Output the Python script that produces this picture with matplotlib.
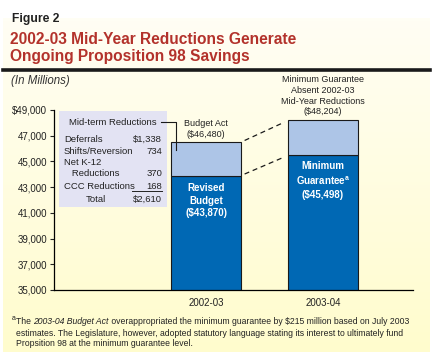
import matplotlib.pyplot as plt
import numpy as np

plt.rcParams['font.family'] = ['Liberation Sans', 'DejaVu Sans']

years = ["2002-03", "2003-04"]
lower_vals = [43870, 45498]
total_vals = [46480, 48204]
lower_labels = ["Revised\nBudget\n($43,870)", "Minimum\nGuarantee$^{\\mathregular{a}}$\n($45,498)"]
top_labels = ["Budget Act\n($46,480)", "Minimum Guarantee\nAbsent 2002-03\nMid-Year Reductions\n($48,204)"]
yticks = [35000, 37000, 39000, 41000, 43000, 45000, 47000, 49000]

reduction_items = ["Deferrals", "Shifts/Reversion", "Net K-12\n   Reductions", "CCC Reductions"]
reduction_vals = ["$1,338", "734", "370", "168"]
reduction_total = "$2,610"

W, H = 432, 356
dark_blue = "#0068b4"
light_blue = "#adc5e7"
red = "#b3322b"
ink = "#222222"

fig = plt.figure(figsize=(W / 100, H / 100), dpi=100)
fig.patch.set_facecolor("white")


def fx(px):
    return px / W


def fy(py):
    return 1 - py / H


# cream panel with a soft gradient
bg = fig.add_axes([fx(3), fy(352), fx(427), (352 - 18) / H], zorder=-5)
grad = np.linspace(0, 1, 100).reshape(-1, 1, 1)
c_top = np.array([255, 254, 244]) / 255
c_bot = np.array([255, 252, 205]) / 255
bg.imshow(c_top + grad * (c_bot - c_top), aspect="auto", extent=[0, 1, 0, 1])
bg.axis("off")

fig.text(fx(12), fy(19), "Figure 2", fontsize=8.7, fontweight="bold", va="center", color=ink)
fig.text(fx(10), fy(39), "2002-03 Mid-Year Reductions Generate", fontsize=11.2,
         fontweight="bold", va="center", color=red)
fig.text(fx(10), fy(57), "Ongoing Proposition 98 Savings", fontsize=11.2,
         fontweight="bold", va="center", color=red)
fig.add_artist(plt.Line2D([fx(3), fx(430)], [fy(70), fy(70)], color="#1a1a1a", lw=2.6))
fig.text(fx(11), fy(81), "(In Millions)", fontsize=8.3, style="italic", va="center", color="#333333")

ax = fig.add_axes([fx(54), fy(290), (413 - 54) / W, (290 - 110) / H])
ax.set_facecolor("none")
x = np.arange(len(years))
bw = 0.6
ax.bar(x, lower_vals, bw, color=dark_blue, edgecolor="#1a1a1a", lw=0.8, zorder=2)
ax.bar(x, np.array(total_vals) - np.array(lower_vals), bw, bottom=lower_vals,
       color=light_blue, edgecolor="#1a1a1a", lw=0.8, zorder=2)
ax.set_xlim(-1.299, 1.769)
ax.set_ylim(35000, 49000)
ax.set_xticks(x)
ax.set_xticklabels(years, fontsize=7)
ax.set_yticks(yticks)
ax.set_yticklabels(["$49,000" if v == 49000 else f"{v:,}" for v in yticks], fontsize=7)
ax.tick_params(axis="x", length=0, pad=6, colors=ink)
ax.tick_params(axis="y", length=3, width=0.8, colors=ink, pad=2)
for s in ["top", "right"]:
    ax.spines[s].set_visible(False)
ax.spines["left"].set_linewidth(0.9)
ax.spines["bottom"].set_linewidth(0.9)

# labels inside the lower bars
ax.text(x[0], 41950, lower_labels[0], ha="center", va="center", color="white",
        fontsize=7, fontweight="bold", linespacing=1.35)
ax.text(x[1], 43530, lower_labels[1], ha="center", va="center", color="white",
        fontsize=7, fontweight="bold", linespacing=1.35)

# labels above the bars
for xi, tv, lab in zip(x, total_vals, top_labels):
    ax.text(xi, tv + 300, lab, ha="center", va="bottom", fontsize=6.5, color=ink,
            linespacing=1.25, clip_on=False)

# dashed connectors between the two bars
for vals in (total_vals, lower_vals):
    ax.plot([x[0] + bw / 2 + 0.03, x[1] - bw / 2 - 0.03], [vals[0] + 150, vals[1] - 150],
            ls=(0, (4, 3)), color="#1a1a1a", lw=0.9, zorder=3)

# inset box with reduction details
box = plt.Rectangle((fx(59), fy(207)), fx(167 - 59), (207 - 111) / H,
                    transform=fig.transFigure, facecolor="#e3e3f3", edgecolor="none", zorder=1)
fig.add_artist(box)
fig.text(fx(113), fy(122), "Mid-term Reductions", ha="center", va="center", fontsize=6.8, color=ink)
rows_y = [139, 151, 168, 186]
for item, val, ry in zip(reduction_items, reduction_vals, rows_y):
    fig.text(fx(64), fy(ry), item, ha="left", va="center", fontsize=6.8,
             color=ink, linespacing=1.15)
    vy = ry + 5 if "\n" in item else ry
    fig.text(fx(162), fy(vy), val, ha="right", va="center", fontsize=6.8, color=ink)
fig.add_artist(plt.Line2D([fx(132), fx(162)], [fy(191), fy(191)], color=ink, lw=0.7))
fig.text(fx(86), fy(199), "Total", ha="left", va="center", fontsize=6.8, color=ink)
fig.text(fx(162), fy(199), reduction_total, ha="right", va="center", fontsize=6.8, color=ink)

# leader line from inset title into the 2002-03 bar
fig.add_artist(plt.Line2D([fx(161), fx(176), fx(176)], [fy(122), fy(122), fy(150)],
                          color="#1a1a1a", lw=0.8))

# footnote
fig.text(fx(11.5), fy(319), "a", fontsize=5, color=ink, va="center")
line1 = [("The ", "normal"), ("2003-04 Budget Act", "italic"),
         (" overappropriated the minimum guarantee by $215 million based on July 2003", "normal")]
fig.canvas.draw()
renderer = fig.canvas.get_renderer()
cx = fx(16)
for txt, st in line1:
    t = fig.text(cx, fy(322), txt, fontsize=6.2, style=st, color=ink, va="center")
    cx += t.get_window_extent(renderer).width / fig.bbox.width
fig.text(fx(16), fy(333), "estimates. The Legislature, however, adopted statutory language stating its interest to ultimately fund",
         fontsize=6.2, color=ink, va="center")
fig.text(fx(16), fy(343), "Propsition 98 at the minimum guarantee level.",
         fontsize=6.2, color=ink, va="center")

fig.savefig("out.png", dpi=100)
